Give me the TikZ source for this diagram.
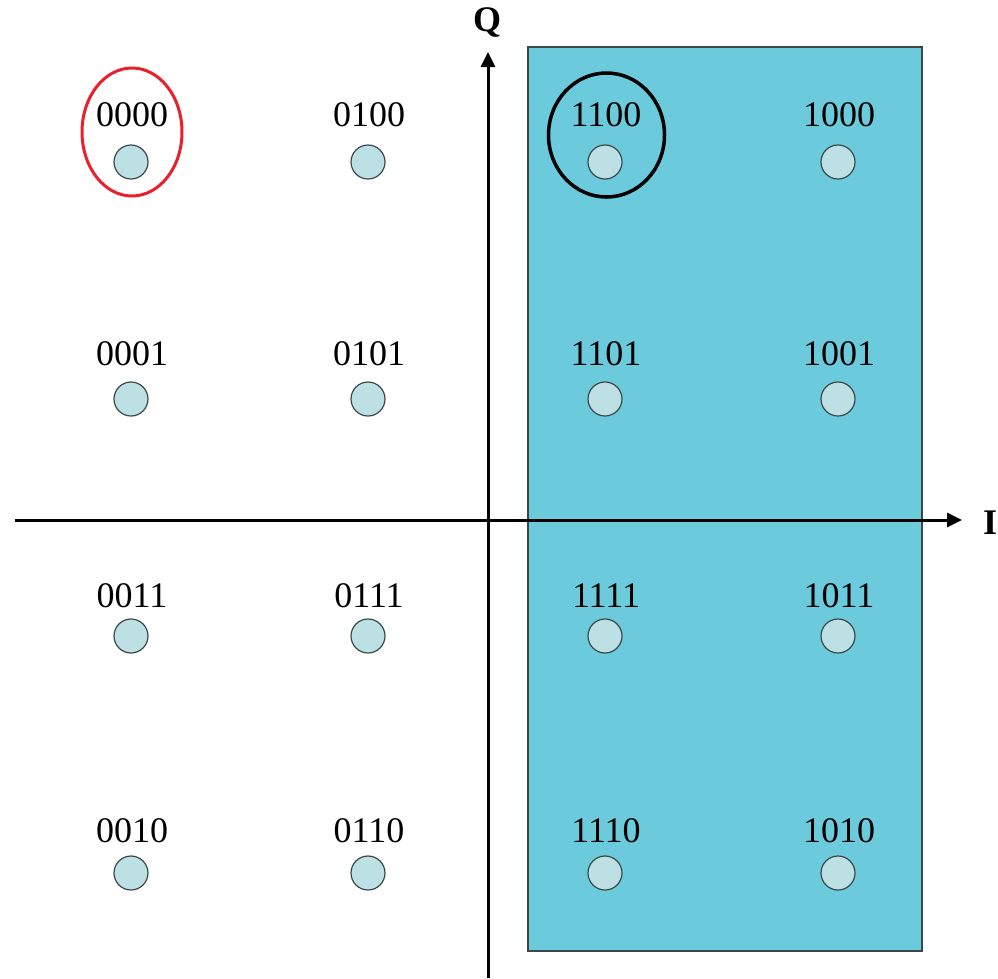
\documentclass[tikz,border=0pt]{standalone}
\usepackage{fontspec}
\setmainfont{Liberation Serif}
\usetikzlibrary{arrows.meta,calc}
\definecolor{halfplane}{HTML}{6BCBDC}
\definecolor{symfill}{HTML}{BDE0E4}
\definecolor{symedge}{HTML}{3A4848}
\definecolor{ringred}{HTML}{E8202A}

\begin{document}
\begin{tikzpicture}[x=1pt, y=-1pt, >={Triangle[length=15pt,width=14pt]},
    symbol/.style={circle, draw=symedge, line width=1.2pt, fill=symfill,
                   minimum size=34pt, inner sep=0pt},
    bits/.style={font=\fontsize{36}{36}\selectfont, inner sep=0pt},
    axislabel/.style={font=\fontsize{36}{36}\selectfont\bfseries, inner sep=0pt},
    axis/.style={->, line width=3pt}]
    \useasboundingbox (0,0) rectangle (998,978);

    % right half plane (first bit = 1)
    \draw[fill=halfplane, draw=symedge, line width=1.5pt] (528,47) rectangle (922,951);

    % 16-QAM points, Gray code = column bits + row bits
    \foreach \cb/\x in {00/131, 01/368, 11/605, 10/838}
      \foreach \rb/\y/\ly in {00/162/115, 01/399/354, 11/636/596, 10/873/831} {
        \node[symbol] (s\cb\rb) at (\x,\y) {};
        \node[bits] (b\cb\rb) at (\x+1,\ly) {\cb\rb};
      }

    % I / Q axes
    \coordinate (iL) at (15,520);
    \coordinate (iR) at (962,520);
    \coordinate (qB) at (488,978);
    \coordinate (qT) at (488,52);
    \draw[axis] (iL) -- (iR);
    \draw[axis] (qB) -- (qT);
    \node[axislabel] (q) at (487,22) {Q};
    \node[axislabel] (i) at (990,523) {I};

    % marked symbols
    \draw[ringred, line width=3pt] ($(s0000)+(1,-30)$) ellipse [x radius=50pt, y radius=64pt];
    \draw[black, line width=3.5pt] ($(s1100)+(1.5,-27)$) ellipse [x radius=58pt, y radius=62pt];
\end{tikzpicture}
\end{document}
